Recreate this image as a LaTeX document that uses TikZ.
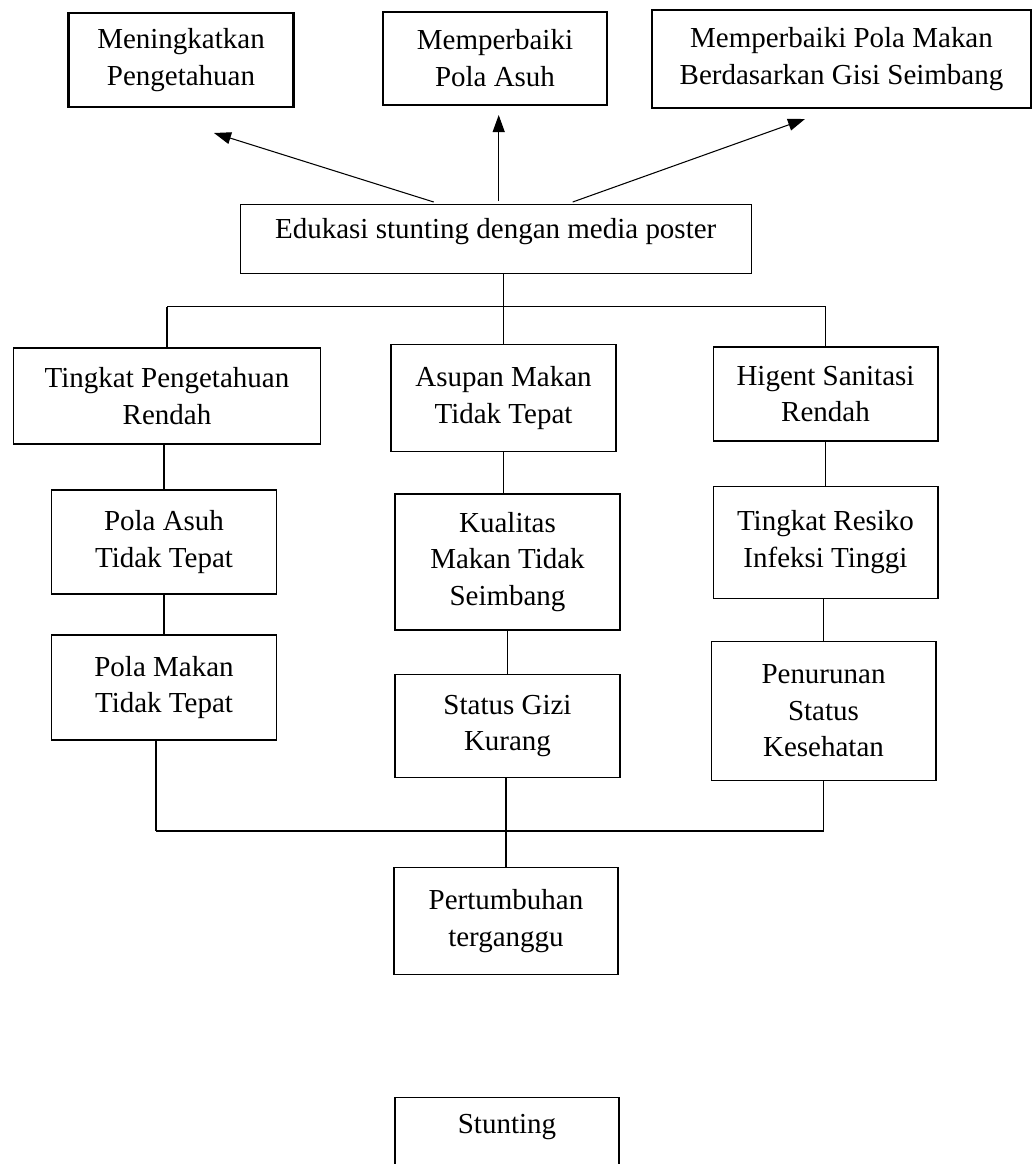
\documentclass[tikz,border=0pt]{standalone}
\usepackage{fontspec}
\setmainfont{Liberation Serif}
\usetikzlibrary{arrows.meta,calc}

\begin{document}
\begin{tikzpicture}[x=0.02cm,y=-0.02cm,
    stntBox/.style={draw,line width=0.6pt,align=center,inner sep=2pt,
        font=\fontsize{16.5}{21}\selectfont,minimum width=4.5cm},
    stntTop/.style={stntBox,line width=1.2pt},
    stntLine/.style={line width=0.6pt},
    stntBar/.style={line width=0.9pt},
    stntArrow/.style={line width=0.6pt,-{Triangle[length=0.34cm,width=0.24cm]}},
]
\useasboundingbox (0,0) rectangle (1033,1164);
% Goals
\node[stntTop,minimum height=1.88cm] (Know) at (181,60) {Meningkatkan\\Pengetahuan};
\node[stntTop,minimum width=4.48cm,minimum height=1.86cm] (Care) at (495,58.5) {Memperbaiki\\Pola Asuh};
\node[stntTop,minimum width=7.58cm,minimum height=1.96cm] (Diet) at (841.5,59) {Memperbaiki Pola Makan\\Berdasarkan Gisi Seimbang};
% Education
\node[stntBox,anchor=north,minimum width=10.22cm,inner ysep=0pt,
    text height=0.68cm,text depth=0.7cm] (Edu) at (495.7,204) {Edukasi stunting dengan media poster};
\coordinate (KnowTip) at (214,133);
\coordinate (CareTip) at (498.7,115);
\coordinate (DietTip) at (805,119);
\draw[stntArrow] ($(Edu.north)+(-62,-2)$) -- (KnowTip);
\draw[stntArrow] ($(Edu.north)+(3,-3)$) -- (CareTip);
\draw[stntArrow] ($(Edu.north)+(77,-2)$) -- (DietTip);
% Causes
\node[stntBox,minimum width=6.16cm,minimum height=1.92cm] (L1) at (167,396) {Tingkat Pengetahuan\\Rendah};
\node[stntBox,minimum height=2.14cm] (M1) at (503.5,398) {Asupan Makan\\Tidak Tepat};
\node[stntBox,minimum height=1.88cm] (R1) at (825.5,394) {Higent Sanitasi\\Rendah};
\node[stntBox,minimum height=2.08cm] (L2) at (164,542) {Pola Asuh\\Tidak Tepat};
\node[stntBox,minimum height=2.72cm] (M2) at (507.5,562) {Kualitas\\Makan Tidak\\Seimbang};
\node[stntBox,minimum height=2.24cm] (R2) at (825.5,542.5) {Tingkat Resiko\\Infeksi Tinggi};
\node[stntBox,minimum height=2.1cm] (L3) at (164,687.5) {Pola Makan\\Tidak Tepat};
\node[stntBox,minimum height=2.06cm] (M3) at (507.5,726) {Status Gizi\\Kurang};
\node[stntBox,minimum height=2.78cm] (R3) at (823.5,710.7) {Penurunan\\Status\\Kesehatan};
% Result
\node[stntBox,minimum width=4.48cm,minimum height=2.14cm] (Grow) at (506,921) {Pertumbuhan\\terganggu};
\node[stntBox,anchor=north,minimum width=4.48cm,inner ysep=0pt,
    text height=0.72cm,text depth=1.5cm] (Stunt) at (507,1097) {Stunting};
% Top tree
\coordinate (TopBar) at (0,306.7);
\draw[stntLine] (M1.north) -- (M1.north |- Edu.south);
\draw[stntLine] (L1.north) -- (L1.north |- TopBar);
\draw[stntLine] (R1.north) -- (R1.north |- TopBar);
\draw[stntBar] (L1.north |- TopBar) -- (R1.north |- TopBar);
% Chains
\draw[stntLine] (L2.north |- L1.south) -- (L2.north);
\draw[stntLine] (L2.south) -- (L3.north);
\draw[stntLine] (M1.south) -- (M1.south |- M2.north);
\draw[stntLine] (M2.south) -- (M3.north);
\draw[stntLine] (R1.south) -- (R2.north);
\draw[stntLine] (R3.north |- R2.south) -- (R3.north);
% Bottom tree
\coordinate (BotBar) at (0,831);
\coordinate (LeftEnd) at ($(L3.south)+(-8,0)$);
\draw[stntLine] (LeftEnd) -- (LeftEnd |- BotBar);
\draw[stntLine] (R3.south) -- (R3.south |- BotBar);
\draw[stntBar] (LeftEnd |- BotBar) -- (R3.south |- BotBar);
\draw[stntLine] (Grow.north |- M3.south) -- (Grow.north);
\end{tikzpicture}
\end{document}
